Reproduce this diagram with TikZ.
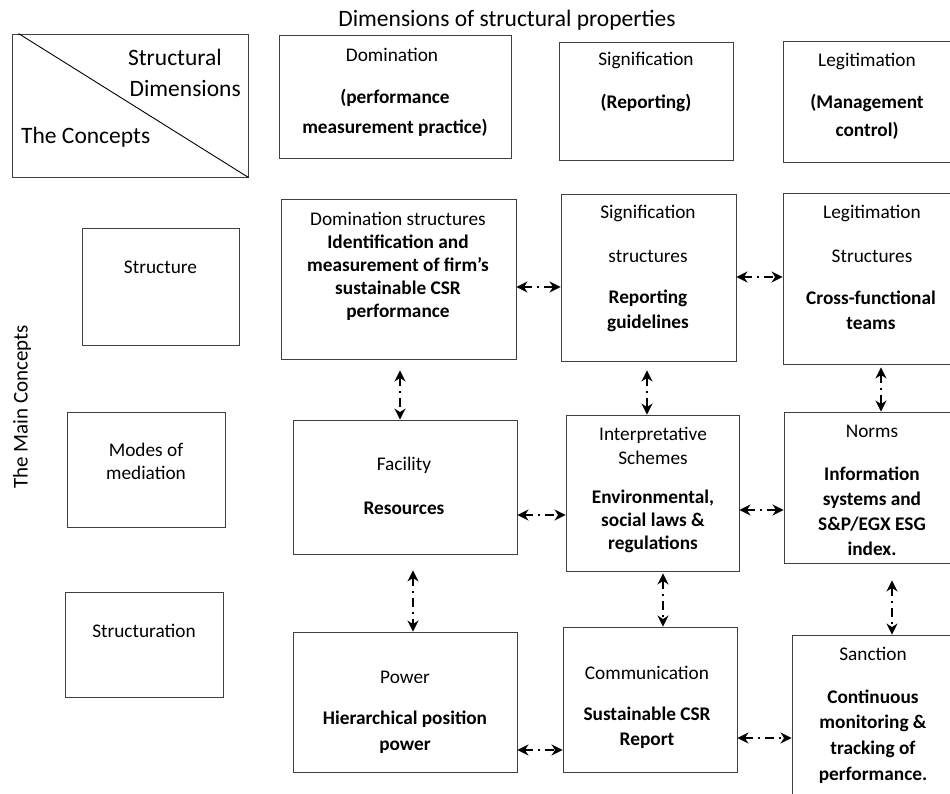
\documentclass[tikz,border=0pt]{standalone}
\usepackage{fontspec}
\setmainfont{Carlito}
\usetikzlibrary{arrows.meta}

\tikzset{
  box/.style={draw=black!75, line width=0.9pt, inner sep=0pt},
  lbl/.style={font=\fontsize{19.3}{25}\selectfont, align=center, inner sep=0pt},
  bld/.style={lbl, font=\fontsize{19.3}{25}\selectfont\bfseries},
  big/.style={font=\fontsize{23.5}{28}\selectfont, inner sep=0pt},
  link/.style={<->, line width=2.6pt, dash pattern=on 9pt off 5pt on 2pt off 5pt},
}

\begin{document}
\begin{tikzpicture}[x=1pt,y=-1pt,>={Stealth[length=11pt,width=11pt,inset=3.5pt]}]
\path[use as bounding box, clip] (0,0) rectangle (950,793);

% header row
\node[big] (title) at (507,20) {Dimensions of structural properties};
\node[box,minimum width=236,minimum height=143] (corner) at (130,105.5) {};
\draw[line width=0.9pt] ([xshift=7pt]corner.north west) -- (corner.south east);
\node[big,anchor=east] (sdimA) at (222,57) {Structural};
\node[big,anchor=east] (sdimB) at (241,88) {Dimensions};
\node[big,anchor=west] (concepts) at (21,137) {The Concepts};

\node[box,minimum width=232,minimum height=123] (domD) at (395,96.5) {};
\node[lbl] (domDl) at (392,55) {Domination};
\node[bld,font=\fontsize{19.3}{30}\selectfont\bfseries] (domDb) at (395,113) {(performance\\measurement practice)};

\node[box,minimum width=174,minimum height=118] (sigD) at (646,101) {};
\node[lbl] (sigDl) at (646,60) {Signification};
\node[bld] (sigDb) at (646,103) {(Reporting)};

\node[box,minimum width=172,minimum height=121] (legD) at (869,101.5) {};
\node[lbl] (legDl) at (867,61) {Legitimation};
\node[bld,font=\fontsize{19.3}{28}\selectfont\bfseries] (legDb) at (867,117) {(Management\\control)};

% side label
\node[font=\fontsize{21}{24}\selectfont,inner sep=0pt,rotate=90] (mainc) at (22,407) {The Main Concepts};

% structure row
\node[box,minimum width=157,minimum height=117] (strc) at (160.5,286.5) {};
\node[lbl] (strcl) at (160.5,267) {Structure};

\node[box,minimum width=235,minimum height=160] (domS) at (398.5,279) {};
\node[lbl] (domSl) at (398,219) {Domination structures};
\node[bld,font=\fontsize{19.3}{23}\selectfont\bfseries] (domSb) at (398,277.5) {Identification and\\measurement of firm’s\\sustainable CSR\\performance};

\node[box,minimum width=175,minimum height=167] (sigS) at (648.5,277.5) {};
\node[lbl] (sigSl) at (648,213) {Signification};
\node[lbl] (sigSm) at (648,256) {structures};
\node[bld] (sigSb) at (648,310.5) {Reporting\\guidelines};

\node[box,minimum width=172,minimum height=171] (legS) at (869,278.5) {};
\node[lbl] (legSl) at (872,213) {Legitimation};
\node[lbl] (legSm) at (872,256) {Structures};
\node[bld] (legSb) at (871,310.5) {Cross-functional\\teams};

% mediation row
\node[box,minimum width=158,minimum height=115] (mode) at (146,469.5) {};
\node[lbl,font=\fontsize{19.3}{23}\selectfont] (model) at (146,461.5) {Modes of\\mediation};

\node[box,minimum width=224,minimum height=134] (fac) at (405,487) {};
\node[lbl] (facl) at (404,465) {Facility};
\node[bld] (facb) at (404,508) {Resources};

\node[box,minimum width=173,minimum height=156] (intp) at (652.5,493) {};
\node[lbl,font=\fontsize{19.3}{24}\selectfont] (intpl) at (653,446) {Interpretative\\Schemes};
\node[bld,font=\fontsize{19.3}{23}\selectfont\bfseries] (intpb) at (653,521) {Environmental,\\social laws \&\\regulations};

\node[box,minimum width=171,minimum height=151] (norm) at (869.5,487.5) {};
\node[lbl] (norml) at (872,431) {Norms};
\node[bld] (normb) at (872,511) {Information\\systems and\\S\&P/EGX ESG\\index.};

% structuration row
\node[box,minimum width=158,minimum height=105] (stru) at (144,644.5) {};
\node[lbl] (strul) at (144,631) {Structuration};

\node[box,minimum width=224,minimum height=140] (pow) at (405,702) {};
\node[lbl] (powl) at (405,677) {Power};
\node[bld,font=\fontsize{19.3}{26}\selectfont\bfseries] (powb) at (405,732) {Hierarchical position\\power};

\node[box,minimum width=174,minimum height=145] (com) at (650,699.5) {};
\node[lbl] (coml) at (647,673) {Communication};
\node[bld] (comb) at (647,727.5) {Sustainable CSR\\Report};

\node[box,minimum width=163,minimum height=170] (san) at (873.5,720) {};
\node[lbl] (sanl) at (873,654) {Sanction};
\node[bld,font=\fontsize{19.3}{25.7}\selectfont\bfseries] (sanb) at (873,736.5) {Continuous\\monitoring \&\\tracking of\\performance.};

% links
\draw[link] (domS.east |- 0,287) -- (sigS.west |- 0,287);
\draw[link] (sigS.east |- 0,277) -- (legS.west |- 0,277);
\draw[link] (fac.east |- 0,515) -- (intp.west |- 0,515);
\draw[link] (intp.east |- 0,510) -- (norm.west |- 0,510);
\draw[link] (pow.east |- 0,750) -- (com.west |- 0,750);
\draw[link] (com.east |- 0,738) -- (san.west |- 0,738);
\draw[link,shorten <=11pt] (domS.south -| 400,0) -- (fac.north -| 400,0);
\draw[link,shorten <=9pt] (sigS.south -| 647,0) -- (intp.north -| 647,0);
\draw[link,shorten <=3pt] (legS.south -| 881,0) -- (norm.north -| 881,0);
\draw[link,shorten <=16pt] (fac.south -| 413,0) -- (pow.north -| 413,0);
\draw[link,shorten <=2pt] (intp.south -| 663,0) -- (com.north -| 663,0);
\draw[link,shorten <=17pt] (norm.south -| 892,0) -- (san.north -| 892,0);
\end{tikzpicture}
\end{document}
